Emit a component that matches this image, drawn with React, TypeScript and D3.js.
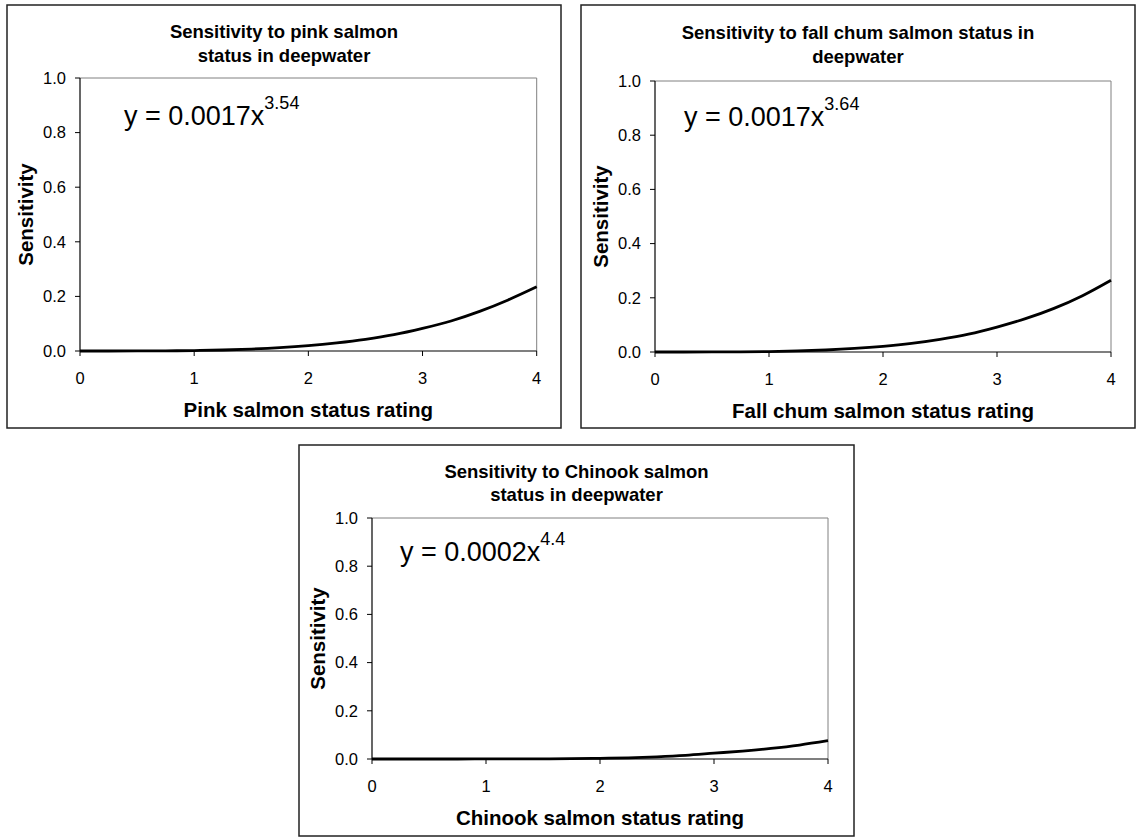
import React from "react";
import * as d3 from "d3";

// ---- data ----
const ratingX = [0, 0.25, 0.5, 0.75, 1, 1.25, 1.5, 1.75, 2, 2.25, 2.5, 2.75, 3, 3.25, 3.5, 3.75, 4];
const pinkSens = [0, 0, 0.0002, 0.0007, 0.0017, 0.0037, 0.0072, 0.0124, 0.0198, 0.03, 0.043, 0.06, 0.083, 0.11, 0.145, 0.187, 0.235];
const chumSens = [0, 0, 0.0001, 0.0006, 0.0017, 0.0038, 0.0074, 0.013, 0.021, 0.032, 0.047, 0.066, 0.092, 0.123, 0.161, 0.208, 0.265];
const chinookSens = [0, 0, 0, 0, 0.0002, 0.0003, 0.0006, 0.0012, 0.003, 0.005, 0.009, 0.015, 0.024, 0.033, 0.044, 0.058, 0.076];

const xTicks = [0, 1, 2, 3, 4];
const yTicks = [0, 0.2, 0.4, 0.6, 0.8, 1.0];

const titles = [
  ["Sensitivity to pink salmon", "status in deepwater"],
  ["Sensitivity to fall chum salmon status in", "deepwater"],
  ["Sensitivity to Chinook salmon", "status in deepwater"],
];
const xTitles = ["Pink salmon status rating", "Fall chum salmon status rating", "Chinook salmon status rating"];
const eqCoef = ["0.0017", "0.0017", "0.0002"];
const eqExp = ["3.54", "3.64", "4.4"];
const series = [pinkSens, chumSens, chinookSens];

// ---- layout ----
const layouts = [
  { box: [7, 5, 561, 428], plot: [80, 78, 536.7, 351], t1: 38, t2: 62, eq: [124, 125] },
  { box: [581, 5, 1135, 428], plot: [655, 81, 1111, 352], t1: 39, t2: 63, eq: [684, 126] },
  { box: [299, 445, 854, 836], plot: [372, 518, 828, 759], t1: 478, t2: 501, eq: [400, 561] },
];

const FONT = "Arial, 'Liberation Sans', sans-serif";

function Panel({ i }: { i: number }) {
  const L = layouts[i];
  const [bx0, by0, bx1, by1] = L.box;
  const [px0, py0, px1, py1] = L.plot;
  const x = d3.scaleLinear().domain([0, 4]).range([px0, px1]);
  const y = d3.scaleLinear().domain([0, 1]).range([py1, py0]);
  const vals = series[i];
  const pts: [number, number][] = ratingX.map((v, k) => [v, vals[k]]);
  const line = d3
    .line<[number, number]>()
    .x((d) => x(d[0]))
    .y((d) => y(d[1]))
    .curve(d3.curveMonotoneX);
  const cx = (bx0 + bx1) / 2;
  const pcx = (px0 + px1) / 2;
  const pcy = (py0 + py1) / 2;
  return (
    <g>
      <rect x={bx0} y={by0} width={bx1 - bx0} height={by1 - by0} fill="#fff" stroke="#222" strokeWidth={1.5} />
      <text x={cx} y={L.t1} textAnchor="middle" fontFamily={FONT} fontWeight="bold" fontSize={18.5}>
        {titles[i][0]}
      </text>
      <text x={cx} y={L.t2} textAnchor="middle" fontFamily={FONT} fontWeight="bold" fontSize={18.5}>
        {titles[i][1]}
      </text>
      {/* plot area border top/right */}
      <line x1={px0} y1={py0} x2={px1} y2={py0} stroke="#808080" strokeWidth={1} />
      <line x1={px1} y1={py0} x2={px1} y2={py1} stroke="#808080" strokeWidth={1} />
      {/* axes */}
      <line x1={px0} y1={py0} x2={px0} y2={py1} stroke="#000" strokeWidth={1.2} />
      <line x1={px0} y1={py1} x2={px1} y2={py1} stroke="#000" strokeWidth={1.2} />
      {yTicks.map((t) => (
        <g key={"y" + t}>
          <line x1={px0 - 5} x2={px0} y1={y(t)} y2={y(t)} stroke="#000" strokeWidth={1} />
          <text x={px0 - 14} y={y(t)} dy="0.35em" textAnchor="end" fontFamily={FONT} fontSize={16.5}>
            {d3.format(".1f")(t)}
          </text>
        </g>
      ))}
      {xTicks.map((t) => (
        <g key={"x" + t}>
          <line x1={x(t)} x2={x(t)} y1={py1} y2={py1 + 5} stroke="#000" strokeWidth={1} />
          <text x={x(t)} y={py1 + 33} textAnchor="middle" fontFamily={FONT} fontSize={16.5}>
            {t}
          </text>
        </g>
      ))}
      <path d={line(pts) || ""} fill="none" stroke="#000" strokeWidth={2.8} />
      <text x={pcx} y={py1 + 66} textAnchor="middle" fontFamily={FONT} fontWeight="bold" fontSize={20.5}>
        {xTitles[i]}
      </text>
      <text
        transform={`translate(${px0 - 47},${pcy}) rotate(-90)`}
        textAnchor="middle"
        fontFamily={FONT}
        fontWeight="bold"
        fontSize={20.5}
      >
        Sensitivity
      </text>
      <text x={L.eq[0]} y={L.eq[1]} fontFamily={FONT} fontSize={27}>
        {`y = ${eqCoef[i]}x`}
        <tspan fontSize={18} dy={-16}>
          {eqExp[i]}
        </tspan>
      </text>
    </g>
  );
}

export default function App() {
  return (
    <svg
      width={1138}
      height={837}
      style={{ position: "absolute", left: 0, top: 0, background: "#fff" }}
    >
      <rect x={0} y={0} width={1138} height={837} fill="#fff" />
      {[0, 1, 2].map((i) => (
        <Panel key={i} i={i} />
      ))}
    </svg>
  );
}
